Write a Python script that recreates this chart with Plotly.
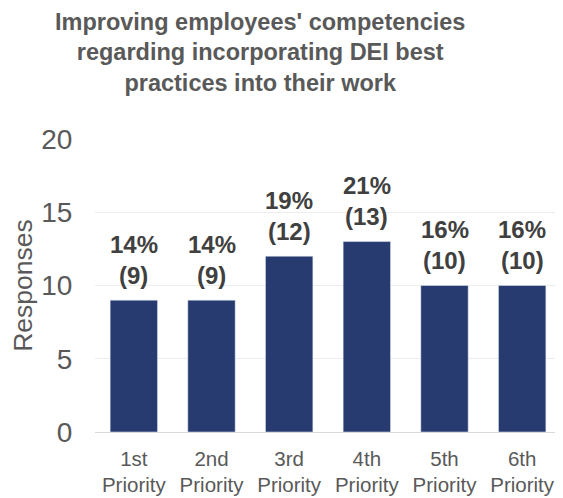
import plotly.graph_objects as go

categories = ["1st<br>Priority", "2nd<br>Priority", "3rd<br>Priority",
              "4th<br>Priority", "5th<br>Priority", "6th<br>Priority"]
responses = [9, 9, 12, 13, 10, 10]
percents = ["14%", "14%", "19%", "21%", "16%", "16%"]

fig = go.Figure(go.Bar(
    x=categories,
    y=responses,
    marker=dict(color="#283B70"),
    hoverinfo="x+y",
))

# two-line value labels above each bar (percent over count)
label_font = dict(family="Liberation Sans", size=24, color="#404040")
for cat, val, pct in zip(categories, responses, percents):
    fig.add_annotation(x=cat, y=val, text=f"<b>({val})</b>", showarrow=False,
                       yanchor="middle", yshift=25, font=label_font)
    fig.add_annotation(x=cat, y=val, text=f"<b>{pct}</b>", showarrow=False,
                       yanchor="middle", yshift=56, font=label_font)

fig.update_layout(
    width=563,
    height=498,
    margin=dict(l=87, r=10, t=131, b=70),
    paper_bgcolor="white",
    plot_bgcolor="white",
    bargap=0.39,
    showlegend=False,
    font=dict(family="Liberation Sans", color="#595959"),
    title=dict(
        text="<b>Improving employees' competencies<br>regarding incorporating DEI best<br>practices into their work</b>",
        x=0.448, xanchor="center", xref="container",
        yref="container", y=0.956, yanchor="middle",
        font=dict(family="Liberation Sans", size=23.5, color="#595959"),
    ),
)
fig.update_xaxes(
    showline=True, linecolor="#D9D9D9", linewidth=1,
    tickfont=dict(size=20.5, color="#595959"),
    ticks="outside", ticklen=8, tickcolor="white",
)
fig.update_yaxes(
    range=[0, 20], dtick=5,
    showgrid=True, gridcolor="#EDEDED",
    zeroline=False,
    tickfont=dict(size=28, color="#595959"),
    ticks="outside", ticklen=16, tickcolor="white",
    title=dict(text="Responses", font=dict(size=26.5, color="#595959"), standoff=3),
)

fig.write_html("out.html")
